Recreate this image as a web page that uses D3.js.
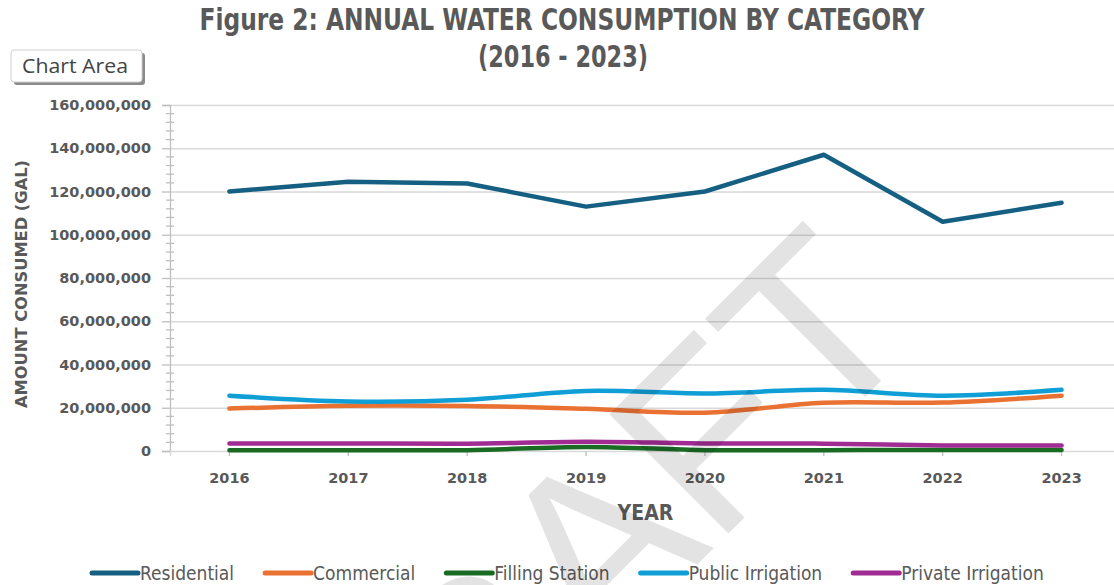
<!DOCTYPE html>
<html>
<head>
<meta charset="utf-8">
<script src="https://cdn.jsdelivr.net/npm/d3@7"></script>
<style>
  body { margin: 0; background: #fff; }
  svg { display: block; }
</style>
</head>
<body>
<svg id="chart" width="1114" height="585"></svg>
<script>
// data (gallons)
const years = ["2016", "2017", "2018", "2019", "2020", "2021", "2022", "2023"];
const residential = [120.0e6, 124.5e6, 123.7e6, 113.0e6, 120.0e6, 137.0e6, 106.0e6, 114.8e6];
const commercial = [19.6e6, 20.9e6, 20.8e6, 19.5e6, 17.7e6, 22.3e6, 22.4e6, 25.6e6];
const fillingStation = [0.4e6, 0.4e6, 0.4e6, 1.9e6, 0.4e6, 0.4e6, 0.5e6, 0.5e6];
const publicIrrigation = [25.6e6, 22.9e6, 23.7e6, 27.8e6, 26.6e6, 28.3e6, 25.6e6, 28.3e6];
const privateIrrigation = [3.5e6, 3.5e6, 3.4e6, 4.3e6, 3.5e6, 3.4e6, 2.6e6, 2.6e6];
const seriesNames = ["Residential", "Commercial", "Filling Station", "Public Irrigation", "Private Irrigation"];
const yTicks = [0, 20e6, 40e6, 60e6, 80e6, 100e6, 120e6, 140e6, 160e6];

const seriesValues = [residential, commercial, fillingStation, publicIrrigation, privateIrrigation];
const colors = ["#156082", "#E97132", "#196B24", "#0F9ED5", "#A02B93"];
const smooth = [false, true, true, true, true];

const width = 1114, height = 585;
const plotLeft = 170, plotRight = 1121, plotTop = 105, plotBottom = 451;
const textGray = "#595959";
const condensed = "'Liberation Sans Narrow', 'DejaVu Sans Condensed', 'Roboto', sans-serif";
const wide = "'DejaVu Sans', 'Verdana', sans-serif";

const svg = d3.select("#chart");
svg.append("rect").attr("width", width).attr("height", height).attr("fill", "#fff");

const x = d3.scaleBand().domain(years).range([plotLeft, plotRight]);
const xc = (d) => x(d) + x.bandwidth() / 2;
const y = d3.scaleLinear().domain([0, 160e6]).range([plotBottom, plotTop]);

// gridlines
svg.append("g")
  .attr("transform", `translate(${plotLeft},0)`)
  .call(d3.axisLeft(y).tickValues(yTicks.slice(1)).tickSize(-(plotRight - plotLeft)).tickFormat(""))
  .call((g) => g.select(".domain").remove())
  .call((g) => g.selectAll(".tick line").attr("stroke", "#d9d9d9").attr("stroke-width", 1.3));

// y axis
const yAxis = svg.append("g")
  .attr("transform", `translate(${plotLeft},0)`)
  .call(d3.axisLeft(y).tickValues(yTicks).tickFormat(d3.format(",")).tickSize(8).tickPadding(11))
  .call((g) => g.select(".domain").attr("stroke", "#bfbfbf").attr("stroke-width", 1.3))
  .call((g) => g.selectAll(".tick line").attr("stroke", "#bfbfbf").attr("stroke-width", 1.3))
  .call((g) => g.selectAll(".tick text")
    .attr("fill", textGray)
    .attr("font-family", wide)
    .attr("font-weight", "bold")
    .attr("font-size", 14.5));

// minor ticks every 4M
const minor = d3.range(0, 160e6 + 1, 4e6).filter((v) => v % 20e6 !== 0);
yAxis.selectAll(".minor")
  .data(minor)
  .join("line")
  .attr("class", "minor")
  .attr("x1", -4).attr("x2", 4)
  .attr("y1", (d) => y(d)).attr("y2", (d) => y(d))
  .attr("stroke", "#bfbfbf").attr("stroke-width", 1.3);

// x axis
svg.append("g")
  .attr("transform", `translate(0,${plotBottom})`)
  .call(d3.axisBottom(x).tickSize(5).tickPadding(17))
  .call((g) => g.select(".domain").attr("stroke", "#d9d9d9").attr("stroke-width", 1.3))
  .call((g) => g.selectAll(".tick line").attr("stroke", "#bfbfbf").attr("stroke-width", 1.3))
  .call((g) => g.selectAll(".tick text")
    .attr("fill", textGray)
    .attr("font-family", wide)
    .attr("font-weight", "bold")
    .attr("font-size", 14.5));

// lines
const lines = svg.append("g").attr("fill", "none").attr("stroke-width", 4.5)
  .attr("stroke-linejoin", "round").attr("stroke-linecap", "round");
seriesValues.forEach((vals, i) => {
  const line = d3.line()
    .x((d, j) => xc(years[j]))
    .y((d) => y(d))
    .curve(smooth[i] ? d3.curveCatmullRom.alpha(0.5) : d3.curveLinear);
  lines.append("path").attr("d", line(vals)).attr("stroke", colors[i]);
});

// titles
svg.append("text")
  .attr("x", 562).attr("y", 30)
  .attr("text-anchor", "middle")
  .attr("fill", textGray).attr("font-family", condensed).attr("font-weight", "bold")
  .attr("font-size", 30)
  .attr("textLength", 725).attr("lengthAdjust", "spacingAndGlyphs")
  .text("Figure 2: ANNUAL WATER CONSUMPTION BY CATEGORY");
svg.append("text")
  .attr("x", 563).attr("y", 67)
  .attr("text-anchor", "middle")
  .attr("fill", textGray).attr("font-family", condensed).attr("font-weight", "bold")
  .attr("font-size", 30)
  .attr("textLength", 170).attr("lengthAdjust", "spacingAndGlyphs")
  .text("(2016 - 2023)");

svg.append("text")
  .attr("transform", "translate(27,284) rotate(-90)")
  .attr("text-anchor", "middle")
  .attr("fill", textGray).attr("font-family", wide).attr("font-weight", "bold")
  .attr("font-size", 15.5)
  .attr("textLength", 248).attr("lengthAdjust", "spacingAndGlyphs")
  .text("AMOUNT CONSUMED (GAL)");

svg.append("text")
  .attr("x", (plotLeft + plotRight) / 2).attr("y", 520)
  .attr("text-anchor", "middle")
  .attr("fill", textGray).attr("font-family", condensed).attr("font-weight", "bold")
  .attr("font-size", 21)
  .text("YEAR");

// legend
const legend = svg.append("g").attr("transform", "translate(0,573)");
let lx = 90;
seriesNames.forEach((name, i) => {
  const item = legend.append("g").attr("transform", `translate(${lx},0)`);
  item.append("line").attr("x1", 2).attr("x2", 48).attr("y1", 0).attr("y2", 0)
    .attr("stroke", colors[i]).attr("stroke-width", 5).attr("stroke-linecap", "round");
  const t = item.append("text").attr("x", 50).attr("y", 6.5)
    .attr("fill", textGray).attr("font-family", condensed).attr("font-size", 19)
    .text(name);
  lx += 50 + t.node().getComputedTextLength() + 29;
});

// "Chart Area" tooltip
const tip = svg.append("g").attr("transform", "translate(11,50)");
tip.append("rect").attr("x", 3).attr("y", 3).attr("width", 131).attr("height", 32).attr("rx", 3)
  .attr("fill", "#6e6e6e").attr("opacity", 0.8);
tip.append("rect").attr("width", 131).attr("height", 32).attr("rx", 3)
  .attr("fill", "#fff").attr("stroke", "#d0d0d0");
tip.append("text").attr("x", 11).attr("y", 23)
  .attr("fill", "#444").attr("font-family", "'Open Sans', sans-serif").attr("font-size", 20)
  .attr("textLength", 106).attr("lengthAdjust", "spacingAndGlyphs")
  .text("Chart Area");

// DRAFT watermark
svg.append("text")
  .attr("transform", "translate(926,336) rotate(-45)")
  .attr("text-anchor", "end")
  .attr("fill", "#000").attr("fill-opacity", 0.11)
  .attr("font-family", "'Liberation Sans', Arial, sans-serif")
  .attr("font-size", 245)
  .text("DRAFT");
</script>
</body>
</html>
